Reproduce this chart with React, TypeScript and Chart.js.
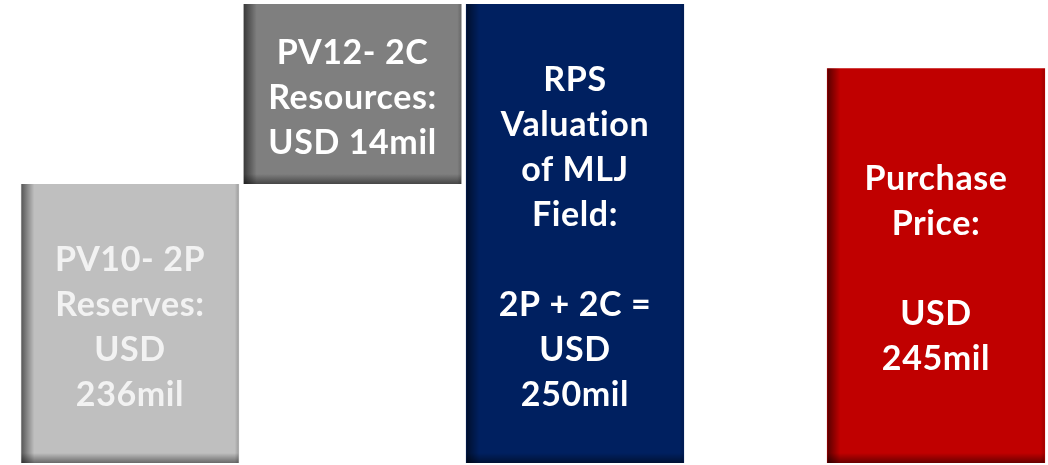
import { useEffect, useRef } from 'react';
import { Chart, registerables } from 'chart.js';

Chart.register(...registerables);

// Two groups: the valuation build-up (2P + 2C = total) and the purchase price
const groups = ['RPS Valuation of MLJ Field', 'Purchase Price'];

// USD million
const pv10Reserves2P = [236, null];
const pv12Resources2C = [14, null];
const rpsValuation = [250, null];
const purchasePrice = [null, 245];

const barColors = ['#BFBFBF', '#7F7F7F', '#002060', '#C00000'];
const textColors = ['#F2F2F2', '#FFFFFF', '#FFFFFF', '#FFFFFF'];

const barLabels: string[][] = [
  ['PV10- 2P', 'Reserves:', 'USD', '236mil'],
  ['PV12- 2C', 'Resources:', 'USD 14mil'],
  ['RPS', 'Valuation', 'of MLJ', 'Field:', '', '2P + 2C =', 'USD', '250mil'],
  ['Purchase', 'Price:', '', 'USD', '245mil'],
];

// 2C sits on top of 2P (waterfall step)
const floatingRanges = (vals: (number | null)[], base: (number | null)[]) =>
  vals.map((v, i) => (v == null ? null : [base[i] ?? 0, (base[i] ?? 0) + v]));

const zeros = [0, 0];

const barShading = {
  id: 'barShading',
  afterDatasetsDraw(chart: any) {
    const { ctx, chartArea } = chart;
    chart.data.datasets.forEach((ds: any, di: number) => {
      const meta = chart.getDatasetMeta(di);
      meta.data.forEach((el: any, i: number) => {
        if (ds.data[i] == null) return;
        const p = el.getProps(['x', 'y', 'base', 'width'], true);
        const bw = ds.borderWidth?.left ?? 0;
        const left = p.x - p.width / 2 + bw;
        const right = p.x + p.width / 2 - bw;
        const top = Math.min(p.y, p.base);
        const bottom = Math.min(Math.max(p.y, p.base), chartArea.bottom);
        ctx.save();
        ctx.beginPath();
        ctx.rect(left, top, right - left, bottom - top);
        ctx.clip();
        // inner shadow: left edge
        let g = ctx.createLinearGradient(left, 0, left + 13, 0);
        g.addColorStop(0, 'rgba(0,0,0,0.55)');
        g.addColorStop(1, 'rgba(0,0,0,0)');
        ctx.fillStyle = g;
        ctx.fillRect(left, top, 13, bottom - top);
        // inner shadow: bottom edge
        g = ctx.createLinearGradient(0, bottom - 10, 0, bottom);
        g.addColorStop(0, 'rgba(0,0,0,0)');
        g.addColorStop(1, 'rgba(0,0,0,0.45)');
        ctx.fillStyle = g;
        ctx.fillRect(left, bottom - 10, right - left, 10);
        // slight darkening on the right edge
        g = ctx.createLinearGradient(right - 4, 0, right, 0);
        g.addColorStop(0, 'rgba(0,0,0,0)');
        g.addColorStop(1, 'rgba(0,0,0,0.18)');
        ctx.fillStyle = g;
        ctx.fillRect(right - 4, top, 4, bottom - top);
        ctx.restore();

        // centred multi-line label
        const lines = barLabels[di];
        const lh = 45;
        const mid = (top + bottom) / 2 + 2;
        ctx.save();
        ctx.font = 'bold 34px Lato';
        (ctx as any).letterSpacing = '0.6px';
        ctx.fillStyle = textColors[di];
        ctx.textAlign = 'center';
        ctx.textBaseline = 'alphabetic';
        const cap = ctx.measureText('H').actualBoundingBoxAscent;
        lines.forEach((line, li) => {
          const y = mid + (li - (lines.length - 1) / 2) * lh + cap / 2;
          ctx.fillText(line, (left + right) / 2, y);
        });
        ctx.restore();
      });
    });
  },
};

export default function App() {
  const canvasRef = useRef<HTMLCanvasElement>(null);

  useEffect(() => {
    if (!canvasRef.current) return;
    const common = {
      borderColor: 'rgba(0,0,0,0)',
      borderWidth: { left: 2.5, right: 2.5, top: 0, bottom: 0 },
      borderSkipped: false,
      clip: { left: false, right: false, top: 0, bottom: 0 },
    };
    const chart = new Chart(canvasRef.current, {
      type: 'bar',
      data: {
        labels: groups,
        datasets: [
          { label: 'PV10 2P Reserves', data: floatingRanges(pv10Reserves2P, zeros), backgroundColor: barColors[0], ...common },
          { label: 'PV12 2C Resources', data: floatingRanges(pv12Resources2C, pv10Reserves2P), backgroundColor: barColors[1], ...common },
          { label: 'RPS Valuation', data: floatingRanges(rpsValuation, zeros), backgroundColor: barColors[2], ...common },
          { label: 'Purchase Price', data: floatingRanges(purchasePrice, zeros), backgroundColor: barColors[3], ...common },
        ] as any,
      },
      options: {
        responsive: false,
        animation: false,
        events: [],
        layout: { padding: { left: 352.5, right: 112, top: 4, bottom: 2 } },
        datasets: { bar: { barThickness: 222.5, skipNull: true } as any },
        scales: {
          x: { type: 'category', offset: false, display: false },
          y: { type: 'linear', min: 214.3, max: 250, display: false },
        },
        plugins: { legend: { display: false }, tooltip: { enabled: false } },
      },
      plugins: [barShading],
    });
    return () => chart.destroy();
  }, []);

  return (
    <div style={{ position: 'absolute', left: 0, top: 0, width: 1048, height: 465, background: '#FFFFFF' }}>
      <canvas ref={canvasRef} width={1048} height={465} />
    </div>
  );
}
